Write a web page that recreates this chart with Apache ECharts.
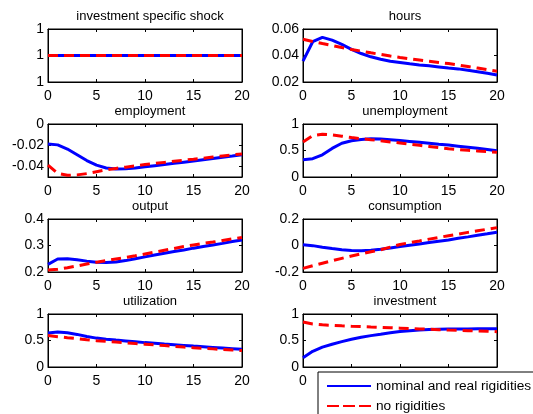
<!DOCTYPE html>
<html>
<head>
<meta charset="UTF-8">
<title>impulse responses</title>
<script src="https://cdn.jsdelivr.net/npm/echarts@6/dist/echarts.min.js"></script>
<style>
  body { margin: 0; background: #fff; }
  #chart { width: 533px; height: 414px; }
</style>
</head>
<body>
<div id="chart"></div>
<script>
var periods = [0,1,2,3,4,5,6,7,8,9,10,11,12,13,14,15,16,17,18,19,20];
var legendNames = ['nominal and real rigidities', 'no rigidities'];

var shockRigid = [1,1,1,1,1,1,1,1,1,1,1,1,1,1,1,1,1,1,1,1,1];
var shockNone  = [1,1,1,1,1,1,1,1,1,1,1,1,1,1,1,1,1,1,1,1,1];

var hoursRigid = [0.0357,0.0504,0.0537,0.0516,0.0484,0.0446,0.0415,0.0390,0.0372,0.0357,0.0347,0.0337,0.0329,0.0322,0.0314,0.0306,0.0299,0.0289,0.0278,0.0266,0.0253];
var hoursNone  = [0.0522,0.0506,0.0490,0.0475,0.0460,0.0446,0.0433,0.0420,0.0408,0.0396,0.0385,0.0375,0.0366,0.0357,0.0348,0.0339,0.0328,0.0317,0.0305,0.0293,0.0281];

var emplRigid = [-0.0188,-0.0197,-0.0236,-0.0290,-0.0345,-0.0388,-0.0415,-0.0424,-0.0422,-0.0414,-0.0404,-0.0393,-0.0382,-0.0371,-0.0360,-0.0349,-0.0337,-0.0325,-0.0313,-0.0302,-0.0290];
var emplNone  = [-0.0388,-0.0465,-0.0484,-0.0480,-0.0468,-0.0450,-0.0433,-0.0419,-0.0407,-0.0394,-0.0382,-0.0372,-0.0362,-0.0352,-0.0342,-0.0333,-0.0323,-0.0312,-0.0302,-0.0292,-0.0282];

var unempRigid = [0.327,0.345,0.418,0.539,0.636,0.685,0.709,0.720,0.717,0.705,0.688,0.671,0.654,0.637,0.619,0.602,0.582,0.562,0.541,0.520,0.497];
var unempNone  = [0.660,0.780,0.806,0.794,0.770,0.745,0.722,0.703,0.685,0.662,0.642,0.620,0.598,0.576,0.554,0.533,0.519,0.505,0.491,0.479,0.467];

var outputRigid = [0.229,0.249,0.250,0.246,0.241,0.237,0.236,0.238,0.243,0.250,0.257,0.264,0.271,0.277,0.283,0.290,0.296,0.302,0.308,0.315,0.321];
var outputNone  = [0.208,0.210,0.216,0.223,0.230,0.237,0.243,0.249,0.255,0.261,0.268,0.275,0.282,0.289,0.296,0.302,0.308,0.313,0.319,0.325,0.330];

var consRigid = [0.006,-0.001,-0.013,-0.023,-0.032,-0.037,-0.039,-0.036,-0.029,-0.019,-0.008,0.002,0.012,0.022,0.032,0.042,0.054,0.065,0.077,0.088,0.100];
var consNone  = [-0.173,-0.153,-0.134,-0.115,-0.097,-0.079,-0.063,-0.047,-0.032,-0.012,0.008,0.021,0.034,0.048,0.061,0.074,0.086,0.099,0.111,0.123,0.135];

var utilRigid = [0.642,0.660,0.645,0.615,0.575,0.545,0.525,0.508,0.492,0.476,0.460,0.447,0.433,0.420,0.407,0.394,0.382,0.370,0.358,0.346,0.333];
var utilNone  = [0.594,0.572,0.553,0.535,0.515,0.497,0.483,0.470,0.457,0.443,0.430,0.417,0.404,0.391,0.377,0.364,0.353,0.342,0.331,0.320,0.310];

var investRigid = [0.176,0.297,0.376,0.430,0.479,0.525,0.562,0.592,0.618,0.645,0.668,0.684,0.697,0.706,0.712,0.716,0.718,0.719,0.720,0.720,0.720];
var investNone  = [0.848,0.810,0.795,0.787,0.778,0.770,0.763,0.755,0.748,0.740,0.733,0.726,0.719,0.712,0.705,0.697,0.691,0.685,0.679,0.673,0.667];

// one entry per subplot, in reading order
var panels = [
  { name: 'investment specific shock', rigid: shockRigid, none: shockNone, yMin: 0, yMax: 2, yStep: 1, fmt: function () { return '1'; } },
  { name: 'hours', rigid: hoursRigid, none: hoursNone, yMin: 0.02, yMax: 0.06, yStep: 0.02 },
  { name: 'employment', rigid: emplRigid, none: emplNone, yMin: -0.05, yMax: 0, yTicks: [-0.04, -0.02, 0] },
  { name: 'unemployment', rigid: unempRigid, none: unempNone, yMin: 0, yMax: 1, yStep: 0.5 },
  { name: 'output', rigid: outputRigid, none: outputNone, yMin: 0.2, yMax: 0.4, yStep: 0.1 },
  { name: 'consumption', rigid: consRigid, none: consNone, yMin: -0.2, yMax: 0.2, yStep: 0.2 },
  { name: 'utilization', rigid: utilRigid, none: utilNone, yMin: 0, yMax: 1, yStep: 0.5 },
  { name: 'investment', rigid: investRigid, none: investNone, yMin: 0, yMax: 1, yStep: 0.5 }
];

var font = "'Liberation Sans', Arial, sans-serif";
var colLeft = [48, 303];
var rowTop = [29, 124, 219, 314];
var plotW = 194, plotH = 53;

function pairs(ys) {
  return periods.map(function (x, i) { return [x, ys[i]]; });
}

var grid = [], xAxis = [], yAxis = [], series = [], title = [];

panels.forEach(function (p, i) {
  var left = colLeft[i % 2], top = rowTop[Math.floor(i / 2)];
  grid.push({ left: left, top: top, width: plotW, height: plotH, show: true,
              borderColor: '#000', borderWidth: 1, backgroundColor: '#fff' });
  title.push({ text: p.name, left: left + plotW / 2, top: top - 24, textAlign: 'center',
               textStyle: { fontFamily: font, fontSize: 13, fontWeight: 'normal', color: '#000' } });

  // bottom / top x axes (ticks on both sides, like matlab)
  [false, true].forEach(function (isTop) {
    xAxis.push({
      type: 'value', gridIndex: i, min: 0, max: 20, interval: 5,
      position: isTop ? 'top' : 'bottom',
      axisLine: { show: true, onZero: false, lineStyle: { color: '#000', width: 1 } },
      axisTick: { show: true, inside: true, length: 3, lineStyle: { color: '#000' } },
      axisLabel: { show: !isTop, margin: 7, color: '#000', fontFamily: font, fontSize: 14 },
      splitLine: { show: false }
    });
  });

  [false, true].forEach(function (isRight) {
    var ya = {
      type: 'value', gridIndex: i, min: p.yMin, max: p.yMax,
      position: isRight ? 'right' : 'left',
      axisLine: { show: true, onZero: false, lineStyle: { color: '#000', width: 1 } },
      axisTick: { show: true, inside: true, length: 3, lineStyle: { color: '#000' } },
      axisLabel: { show: !isRight, margin: 4, color: '#000', fontFamily: font, fontSize: 14 },
      splitLine: { show: false }
    };
    if (p.yTicks) {
      ya.axisTick.customValues = p.yTicks;
      ya.axisLabel.customValues = p.yTicks;
    } else {
      ya.interval = p.yStep;
    }
    if (p.fmt) ya.axisLabel.formatter = p.fmt;
    yAxis.push(ya);
  });

  series.push({
    name: legendNames[0], type: 'line', xAxisIndex: 2 * i, yAxisIndex: 2 * i,
    data: pairs(p.rigid), symbol: 'none', z: 2,
    lineStyle: { color: '#0000ff', width: 3 }, itemStyle: { color: '#0000ff' }
  });
  series.push({
    name: legendNames[1], type: 'line', xAxisIndex: 2 * i, yAxisIndex: 2 * i,
    data: pairs(p.none), symbol: 'none', z: 3,
    lineStyle: { color: '#ff0000', width: 3, type: [10, 6] }, itemStyle: { color: '#ff0000' }
  });
});

var chart = echarts.init(document.getElementById('chart'));
chart.setOption({
  backgroundColor: '#fff',
  animation: false,
  title: title,
  grid: grid,
  xAxis: xAxis,
  yAxis: yAxis,
  series: series,
  legend: {
    data: [
      { name: legendNames[0] },
      { name: legendNames[1], lineStyle: { type: [12, 4] } }
    ],
    orient: 'vertical', left: 318, top: 372, height: 50,
    padding: [7, 40, 12, 8], itemGap: 6, itemWidth: 44, itemHeight: 14,
    itemStyle: { opacity: 0 },
    backgroundColor: '#fff', borderColor: '#000', borderWidth: 1, borderRadius: 0,
    textStyle: { fontFamily: font, fontSize: 13.7, color: '#000' }
  }
});
</script>
</body>
</html>
